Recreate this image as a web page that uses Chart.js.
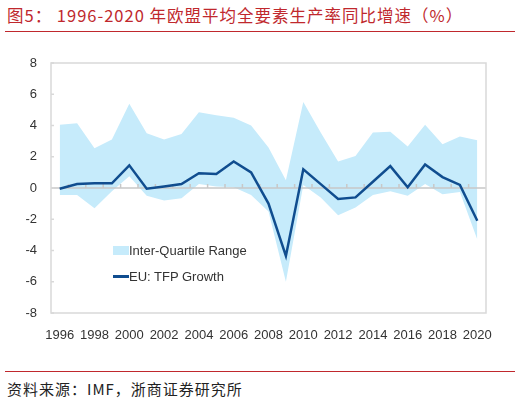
<!DOCTYPE html>
<html>
<head>
  <meta charset="utf-8">
  <script src="https://cdn.jsdelivr.net/npm/chart.js@4"></script>
  <style>
    body { margin: 0; width: 520px; height: 402px; background: #fff; position: relative; overflow: hidden; }
    #title { position: absolute; left: 7px; top: 3px; font: 16.5px "Noto Sans CJK SC"; letter-spacing: 1px; color: #c0282d; white-space: nowrap; }
    #topline { position: absolute; left: 5px; top: 31px; width: 510px; height: 1px; background: #c0282d; }
    #wrap { position: absolute; left: 0; top: 40px; width: 520px; height: 320px; }
    #legend { position: absolute; left: 113px; top: 237px; font: 13px "Liberation Sans"; color: #333; }
    #legend div { height: 26px; display: flex; align-items: center; }
    .sw { width: 16px; height: 9px; background: #c6ebfb; }
    .ln { width: 16px; height: 3px; background: #104d8f; }
    #botline { position: absolute; left: 5px; top: 371px; width: 510px; height: 1px; background: #c0282d; }
    #source { position: absolute; left: 7px; top: 378px; font: 15px "Noto Sans CJK SC"; letter-spacing: 1px; color: #222; white-space: nowrap; }
  </style>
</head>
<body>
  <div id="title">图5： 1996-2020 年欧盟平均全要素生产率同比增速（%）</div>
  <div id="topline"></div>
  <div id="wrap"><canvas id="myChart"></canvas></div>
  <div id="legend">
    <div><span class="sw"></span>Inter-Quartile Range</div>
    <div><span class="ln"></span>EU: TFP Growth</div>
  </div>
  <div id="botline"></div>
  <div id="source">资料来源：IMF，浙商证券研究所</div>
  <script>
    var years = ['1996','1997','1998','1999','2000','2001','2002','2003','2004','2005','2006','2007','2008',
                 '2009','2010','2011','2012','2013','2014','2015','2016','2017','2018','2019','2020']
    var euTfp = [-0.05,0.25,0.3,0.3,1.45,-0.05,0.1,0.25,0.95,0.9,1.7,1.0,-1.0,-4.35,1.2,0.25,-0.7,-0.6,0.4,1.4,0.05,1.5,0.7,0.2,-2.1]
    var iqrHigh = [4.05,4.15,2.55,3.1,5.4,3.5,3.1,3.45,4.85,4.65,4.5,4.0,2.6,0.5,5.5,3.55,1.7,2.05,3.55,3.6,2.65,4.05,2.8,3.3,3.05]
    var iqrLow = [-0.45,-0.45,-1.3,-0.2,0.75,-0.5,-0.8,-0.65,0.25,0.1,0.05,-0.45,-1.5,-6.0,0.2,-0.6,-1.75,-1.25,-0.45,-0.2,-0.5,0.25,-0.4,-0.25,-3.3]
    var yTicks = [-8,-6,-4,-2,0,2,4,6,8]

    // frame, inner y ticks and the zero axis with its small tick marks
    var axisBits = {
      id: 'axisBits',
      afterDatasetDraw(chart, args) {
        if (args.index !== 1) return
        let ctx = chart.ctx, x = chart.scales.x, y = chart.scales.y
        let y0 = y.getPixelForValue(0)
        ctx.save()
        ctx.strokeStyle = '#c8c8c8'
        ctx.lineWidth = 1.5
        ctx.beginPath()
        ctx.moveTo(x.left, y0)
        ctx.lineTo(x.right, y0)
        for (let i = 0; i < years.length - 1; i++) {
          let mx = (x.getPixelForValue(i) + x.getPixelForValue(i + 1)) / 2
          ctx.moveTo(mx, y0)
          ctx.lineTo(mx, y0 - 4)
        }
        ctx.stroke()
        ctx.restore()
      },
      afterDraw(chart) {
        let ctx = chart.ctx, a = chart.chartArea, y = chart.scales.y
        ctx.save()
        ctx.strokeStyle = '#d9d9d9'
        ctx.lineWidth = 1.5
        ctx.strokeRect(a.left, a.top, a.right - a.left, a.bottom - a.top)
        ctx.beginPath()
        yTicks.forEach(v => {
          let py = y.getPixelForValue(v)
          ctx.moveTo(a.left, py)
          ctx.lineTo(a.left + 3, py)
        })
        ctx.stroke()
        ctx.restore()
      }
    }

    let ctx = document.getElementById('myChart').getContext('2d')
    let chart = new Chart(ctx, {
      type: 'line',
      data: {
        labels: years,
        datasets: [
          {
            label: 'EU: TFP Growth',
            data: euTfp,
            borderColor: '#104d8f',
            borderWidth: 2.5,
            pointRadius: 0,
            fill: false,
            tension: 0
          },
          {
            label: 'Inter-Quartile Range',
            data: iqrHigh,
            borderWidth: 0,
            borderColor: 'rgba(0,0,0,0)',
            backgroundColor: '#c6ebfb',
            pointRadius: 0,
            fill: '+1',
            tension: 0
          },
          {
            label: 'low',
            data: iqrLow,
            borderWidth: 0,
            borderColor: 'rgba(0,0,0,0)',
            pointRadius: 0,
            fill: false,
            tension: 0
          }
        ]
      },
      options: {
        responsive: true,
        maintainAspectRatio: false,
        animation: false,
        layout: { padding: { left: 0, right: 34, top: 23, bottom: 13 } },
        plugins: { legend: { display: false }, tooltip: { enabled: false } },
        scales: {
          x: {
            offset: true,
            grid: { display: false, drawTicks: false },
            border: { display: false },
            afterFit(s) { s.height = 34 },
            ticks: {
              autoSkip: false,
              maxRotation: 0,
              padding: 15,
              color: '#333',
              font: { family: 'Liberation Sans', size: 13 },
              callback: function (v, i) { return i % 2 === 0 ? years[i] : '' }
            }
          },
          y: {
            min: -8,
            max: 8,
            grid: { display: false, drawTicks: false },
            border: { display: false },
            afterFit(s) { s.width = 51 },
            ticks: {
              stepSize: 2,
              padding: 14,
              color: '#333',
              font: { family: 'Liberation Sans', size: 13 }
            }
          }
        }
      },
      plugins: [axisBits]
    })
  </script>
</body>
</html>
